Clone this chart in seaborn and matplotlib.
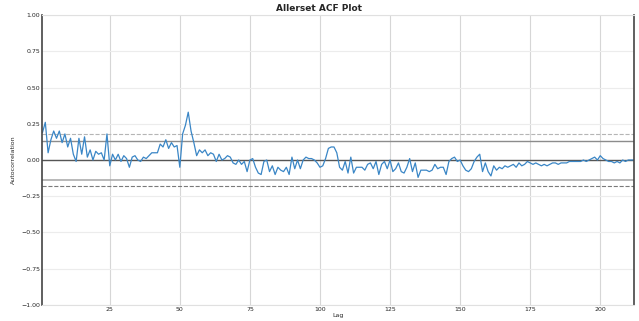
import numpy as np
import pandas as pd
import matplotlib
matplotlib.use("Agg")
import matplotlib.pyplot as plt
import seaborn as sns

# ACF values, lag 1..212
acf_values = [
    0.19, 0.26, 0.05, 0.14, 0.20, 0.15, 0.20, 0.12, 0.18, 0.09,
    0.15, 0.04, -0.01, 0.15, 0.04, 0.16, 0.02, 0.07, 0.00, 0.06,
    0.04, 0.05, 0.00, 0.18, -0.04, 0.04, 0.00, 0.04, -0.01, 0.03,
    0.01, -0.05, 0.02, 0.03, 0.00, -0.01, 0.02, 0.01, 0.03, 0.05,
    0.05, 0.05, 0.11, 0.09, 0.14, 0.08, 0.12, 0.09, 0.10, -0.05,
    0.18, 0.24, 0.33, 0.20, 0.12, 0.03, 0.07, 0.05, 0.07, 0.03,
    0.05, 0.04, -0.01, 0.04, 0.00, 0.01, 0.03, 0.02, -0.02, -0.03,
    0.00, -0.03, -0.01, -0.08, 0.00, 0.01, -0.05, -0.09, -0.10, -0.01,
    0.00, -0.08, -0.04, -0.10, -0.05, -0.07, -0.08, -0.05, -0.10, 0.02,
    -0.06, 0.00, -0.06, 0.00, 0.02, 0.01, 0.01, 0.00, -0.02, -0.05,
    -0.04, 0.01, 0.08, 0.09, 0.09, 0.05, -0.05, -0.07, -0.01, -0.09,
    0.02, -0.09, -0.05, -0.05, -0.05, -0.07, -0.03, -0.02, -0.06, -0.01,
    -0.10, -0.03, -0.01, -0.06, 0.00, -0.08, -0.06, -0.02, -0.08, -0.09,
    -0.05, 0.01, -0.08, -0.02, -0.12, -0.07, -0.07, -0.07, -0.08, -0.07,
    -0.03, -0.06, -0.05, -0.05, -0.10, -0.01, 0.01, 0.02, -0.01, 0.00,
    -0.04, -0.07, -0.08, -0.06, -0.01, 0.02, 0.04, -0.08, -0.02, -0.08,
    -0.11, -0.04, -0.07, -0.05, -0.06, -0.04, -0.05, -0.04, -0.03, -0.05,
    -0.02, -0.04, -0.03, -0.01, -0.02, -0.03, -0.02, -0.03, -0.04, -0.03,
    -0.04, -0.03, -0.02, -0.02, -0.03, -0.02, -0.02, -0.02, -0.01, -0.01,
    -0.01, -0.01, -0.01, 0.00, -0.01, 0.00, 0.01, 0.02, 0.00, 0.03,
    0.01, 0.00, -0.01, -0.01, -0.02, -0.01, -0.02, 0.00, -0.01, 0.00,
    0.00, 0.00,
]
lags = list(range(1, len(acf_values) + 1))
yticks = [-1.00, -0.75, -0.50, -0.25, 0.00, 0.25, 0.50, 0.75, 1.00]

df = pd.DataFrame({"Lag": lags, "Autocorrelation": acf_values})
n = len(df)
z95 = 1.959963984540054
z99 = 2.5758293035489004

sns.set_theme(style="whitegrid")
plt.rcParams["font.family"] = ["DejaVu Sans"]

fig = plt.figure(figsize=(6.39, 3.21), dpi=100)
ax = fig.add_axes([0.0665, 0.05, 0.9255, 0.903])

# confidence bands like pandas autocorrelation_plot
ax.axhline(z99 / np.sqrt(n), linestyle="--", color="#b5b5b5", lw=0.8)
ax.axhline(z95 / np.sqrt(n), color="#8c8c8c", lw=1.0)
ax.axhline(0, color="#555555", lw=1.0)
ax.axhline(-z95 / np.sqrt(n), color="#a5a5a5", lw=1.1)
ax.axhline(-z99 / np.sqrt(n), linestyle="--", color="#7a7a7a", lw=0.8)

sns.lineplot(data=df, x="Lag", y="Autocorrelation", ax=ax, color="#3a86c6", lw=0.9)

ax.set_xlim(1, n)
ax.set_ylim(-1, 1)
ax.set_yticks(yticks)
ax.set_yticklabels([f"{t:.2f}".replace("-", "\u2212") for t in yticks])
ax.set_xticks([25, 50, 75, 100, 125, 150, 175, 200])
ax.tick_params(labelsize=4.5, pad=1.5, length=0)
ax.grid(axis="x", color="#d6d6d6", lw=0.8)
ax.grid(axis="y", color="#ececec", lw=0.8)
ax.set_xlabel("Lag", fontsize=4.5, labelpad=1)
ax.set_ylabel("Autocorrelation", fontsize=4.5, labelpad=4)
# title sits at the centre of the figure, not of the axes
ax.set_title("Allerset ACF Plot", fontsize=6.5, fontweight="bold", pad=3,
             x=(0.5 - 0.0665) / 0.9255)

for side in ["left", "right"]:
    ax.spines[side].set_color("#444444")
    ax.spines[side].set_linewidth(1.2)
for side in ["top", "bottom"]:
    ax.spines[side].set_color("#e0e0e0")
    ax.spines[side].set_linewidth(0.8)

fig.savefig("out.png", dpi=100)
